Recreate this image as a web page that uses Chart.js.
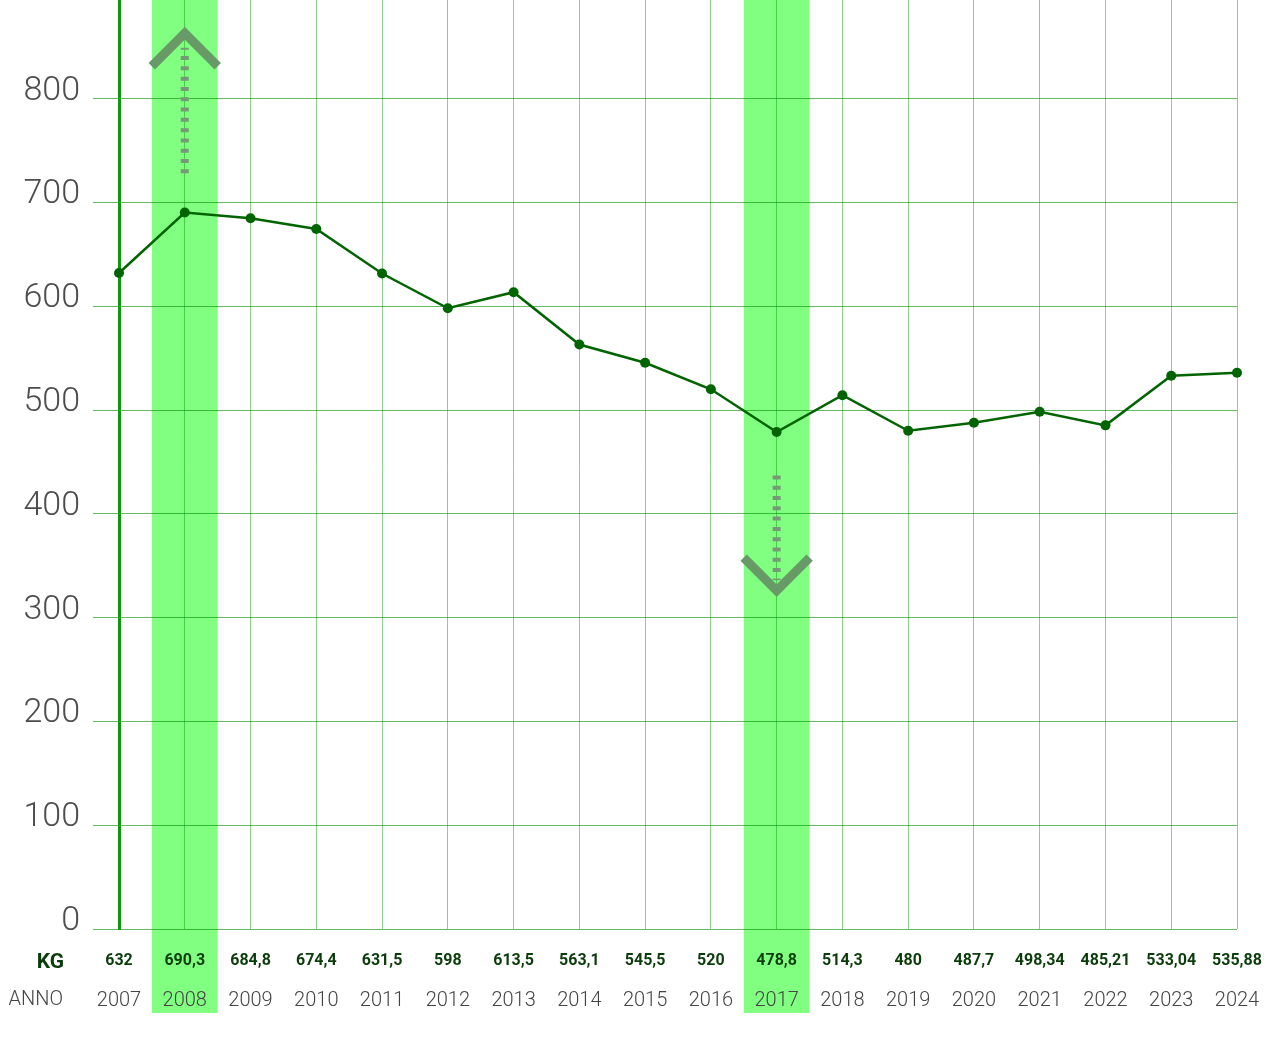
<!DOCTYPE html>
<html>
<head>
<meta charset="utf-8">
<script src="https://cdn.jsdelivr.net/npm/chart.js@4/dist/chart.umd.min.js"></script>
<style>
  html, body { margin: 0; padding: 0; background: #fff; }
  canvas { display: block; }
</style>
</head>
<body>
<canvas id="chart" width="1281" height="1039"></canvas>
<script>
// Rifiuti pro capite (kg) per anno

const years = ['2007', '2008', '2009', '2010', '2011', '2012', '2013', '2014', '2015',
  '2016', '2017', '2018', '2019', '2020', '2021', '2022', '2023', '2024'];
const kgValues = [632, 690.3, 684.8, 674.4, 631.5, 598, 613.5, 563.1, 545.5,
  520, 478.8, 514.3, 480, 487.7, 498.34, 485.21, 533.04, 535.88];
const kgLabels = kgValues.map(v => String(v).replace('.', ','));

const yTicks = [0, 100, 200, 300, 400, 500, 600, 700, 800];
const yMax = 895;

// evidenziazioni: massimo e minimo
const highlightYears = ['2008', '2017'];
// frecce: anno, inizio tratteggio, fine tratteggio, punta (valori in kg)
const arrowYears = ['2008', '2017'];
const arrowFrom = [728, 437];
const arrowTo = [849, 336];
const arrowTip = [863, 326];

const FONT = "Roboto, 'Open Sans', sans-serif";

const decorPlugin = {
  id: 'decor',
  beforeDraw(chart) {
    const { ctx, chartArea, scales } = chart;
    ctx.save();
    ctx.fillStyle = '#ffffff';
    ctx.fillRect(0, 0, chart.width, chart.height);
    // bande verdi
    const step = scales.x.getPixelForValue(1) - scales.x.getPixelForValue(0);
    const bottom = scales.x2.top + 44;
    ctx.fillStyle = '#80ff80';
    highlightYears.forEach(y => {
      const px = scales.x.getPixelForValue(years.indexOf(y));
      ctx.fillRect(px - step / 2, chartArea.top, step, bottom - chartArea.top);
    });
    ctx.restore();
  },
  afterDatasetsDraw(chart) {
    const { ctx, scales } = chart;
    const xs = scales.x, ys = scales.y;
    ctx.save();
    arrowYears.forEach((yr, i) => {
      const px = xs.getPixelForValue(years.indexOf(yr));
      const y0 = ys.getPixelForValue(arrowFrom[i]);
      const y1 = ys.getPixelForValue(arrowTo[i]);
      const tip = ys.getPixelForValue(arrowTip[i]);
      const dir = tip < y0 ? 1 : -1; // 1 = su
      // tratteggio
      ctx.strokeStyle = '#779977';
      ctx.lineWidth = 8;
      ctx.setLineDash([4, 6.3]);
      ctx.beginPath();
      ctx.moveTo(px, y0);
      ctx.lineTo(px, y1);
      ctx.stroke();
      // punta
      ctx.setLineDash([]);
      ctx.strokeStyle = '#689a68';
      ctx.lineWidth = 9;
      ctx.lineCap = 'butt';
      ctx.lineJoin = 'miter';
      ctx.beginPath();
      ctx.moveTo(px - 33, tip + dir * 33);
      ctx.lineTo(px, tip);
      ctx.lineTo(px + 33, tip + dir * 33);
      ctx.stroke();
    });
    ctx.restore();
  },
  afterDraw(chart) {
    const { ctx, scales } = chart;
    const ys = scales.y;
    ctx.save();
    // etichette asse y
    ctx.font = '300 34px ' + FONT;
    ctx.fillStyle = '#4d4d4d';
    ctx.textAlign = 'right';
    ctx.textBaseline = 'alphabetic';
    ys.ticks.forEach(t => {
      ctx.fillText(String(t.value), 80, ys.getPixelForValue(t.value) + 1);
    });
    // titoli delle righe
    ctx.textBaseline = 'middle';
    ctx.font = 'bold 21px ' + FONT;
    ctx.fillStyle = '#0b3d0b';
    ctx.fillText('KG', 64, scales.x.top + 34);
    ctx.font = '300 20px ' + FONT;
    ctx.fillStyle = '#444444';
    ctx.fillText('ANNO', 63, scales.x2.top + 31);
    ctx.restore();
  }
};

new Chart(document.getElementById('chart'), {
  type: 'line',
  data: {
    labels: years,
    datasets: [{
      data: kgValues,
      borderColor: '#006400',
      borderWidth: 2.5,
      pointRadius: 5,
      pointHoverRadius: 5,
      pointBorderWidth: 0,
      pointBackgroundColor: '#006400',
      tension: 0,
      xAxisID: 'x',
      yAxisID: 'y'
    }]
  },
  options: {
    responsive: false,
    animation: false,
    layout: { autoPadding: false, padding: { left: 0, right: 44, top: 0, bottom: 0 } },
    plugins: {
      legend: { display: false },
      tooltip: { enabled: false }
    },
    scales: {
      x: {
        type: 'category',
        position: 'bottom',
        weight: 0,
        grid: { color: 'rgba(0,150,0,0.45)', lineWidth: 1, drawTicks: false },
        border: { display: false },
        ticks: {
          callback: (v, i) => kgLabels[i],
          font: { family: FONT, size: 16, weight: 'bold' },
          color: '#0b3d0b',
          padding: 22,
          autoSkip: false,
          maxRotation: 0
        },
        afterFit: s => { s.height = 40; s.paddingLeft = 0; s.paddingRight = 0; }
      },
      x2: {
        type: 'category',
        labels: years,
        position: 'bottom',
        weight: 1,
        grid: { display: false },
        border: { display: false },
        ticks: {
          font: { family: FONT, size: 20, weight: 300 },
          color: '#444444',
          padding: 12,
          autoSkip: false,
          maxRotation: 0
        },
        afterFit: s => { s.height = 70; s.paddingLeft = 0; s.paddingRight = 0; }
      },
      y: {
        min: 0,
        max: yMax,
        ticks: { display: false },
        afterBuildTicks: s => { s.ticks = yTicks.map(v => ({ value: v })); },
        grid: { color: 'rgba(0,140,0,0.6)', lineWidth: 1, tickLength: 26, drawTicks: true },
        border: { color: '#0a9a0a', width: 3 },
        afterFit: s => { s.width = 119; s.paddingTop = 0; s.paddingBottom = 0; }
      }
    }
  },
  plugins: [decorPlugin]
});
</script>
</body>
</html>
